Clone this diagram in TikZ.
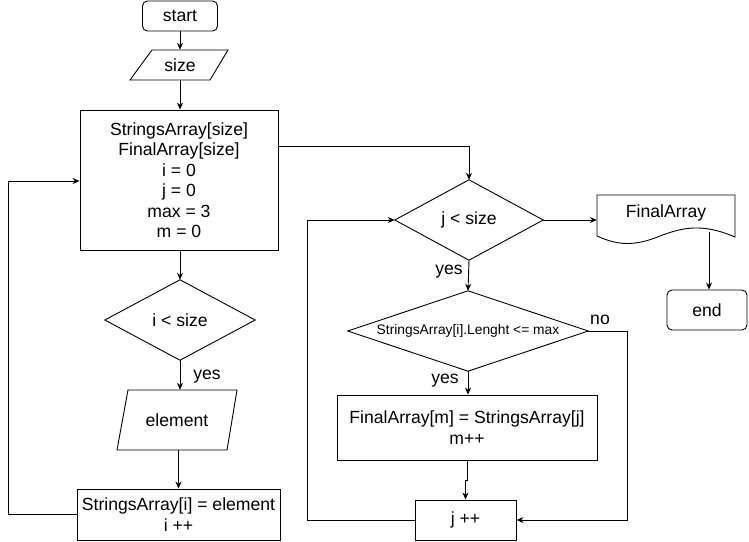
\documentclass[tikz,border=0pt]{standalone}
\usepackage{fontspec}
\setmainfont{Liberation Sans}
\usetikzlibrary{arrows.meta,calc}
\begin{document}
\begin{tikzpicture}[x=1pt,y=-1pt,
  every node/.style={font=\fontsize{17.6}{20.5}\selectfont, inner sep=0pt, align=center},
  line/.style={draw=black, line width=0.9pt},
  arr/.style={line, -{Stealth[length=7pt,width=6pt]}},
  box/.style={draw=black, line width=0.9pt, rectangle},
  rbox/.style={box, rounded corners=5pt},
  ghost/.style={rectangle}
]
\useasboundingbox (0,0) rectangle (749,541);

% start / end
\node[rbox, minimum width=75pt, minimum height=30pt] (start) at (180,16) {start};
\node[rbox, minimum width=80pt, minimum height=40pt] (end) at (707,310) {end};

% size parallelogram
\node[ghost, minimum width=80pt, minimum height=30pt] (size) at (180,65) {size};
\draw[line] (152,50) -- (228,50) -- (210,80) -- (130,80) -- cycle;

% init box
\node[box, minimum width=198pt, minimum height=140pt] (init) at (179,180)
  {StringsArray[size]\\FinalArray[size]\\i = 0\\j = 0\\max = 3\\m = 0};

% i < size diamond
\node[ghost, minimum width=150pt, minimum height=80pt] (di) at (180,320) {i < size};
\draw[line] (di.north) -- (di.east) -- (di.south) -- (di.west) -- cycle;

% element parallelogram
\node[ghost, minimum width=100pt, minimum height=60pt] (el) at (177,420) {element};
\draw[line] (128,390) -- (237,390) -- (227,450) -- (117,450) -- cycle;

% StringsArray[i] = element
\node[box, minimum width=203pt, minimum height=51pt] (b2) at (178.5,514.5)
  {StringsArray[i] = element\\i ++};

% j < size diamond
\node[ghost, minimum width=148pt, minimum height=80pt] (dj) at (469,220) {j < size};
\draw[line] (dj.north) -- (dj.east) -- (dj.south) -- (dj.west) -- cycle;

% FinalArray document
\node[ghost, minimum width=138pt, minimum height=40pt] (fa) at (666,215) {};
\node at (666,213) {FinalArray};
\draw[line] (597,195) -- (735,195) -- (735,237)
  .. controls (700,222) and (680,228) .. (655,238)
  .. controls (630,247) and (615,244) .. (597,236) -- cycle;

% condition diamond
\node[ghost, minimum width=240pt, minimum height=80pt] (dc) at (468,331)
  {\fontsize{13.8}{16}\selectfont StringsArray[i].Lenght <= max};
\draw[line] (dc.north) -- (dc.east) -- (dc.south) -- (dc.west) -- cycle;

% FinalArray[m] box
\node[box, minimum width=260pt, minimum height=65pt] (b3) at (467,427.5)
  {FinalArray[m] = StringsArray[j]\\m++};

% j ++ box
\node[box, minimum width=101pt, minimum height=40pt] (jpp) at (465.5,520) {j ++};

% connectors
\draw[arr] (start.south) -- (size.north);
\draw[arr] (size.south) -- (size.south |- init.north);
\draw[arr] (init.south -| di.north) -- (di.north);
\draw[arr] (di.south) -- (di.south |- el.north);
\draw[arr] (b2.north |- el.south) -- (b2.north);
\draw[arr] (b2.west) -- (8,514.5) |- ($(init.west)+(0,1)$);
\draw[arr] ($(init.east)+(0,-34)$) -| (dj.north);
\draw[arr] (dj.east) -- (dj.east -| fa.west);
\coordinate (faout) at (709,232);
\draw[arr] (faout) -- (faout |- end.north);
\draw[arr] (dj.south) -- (dc.north);
\draw[arr] (dc.south) -- (dc.south |- b3.north);
\draw[arr] (b3.south) -- ++(0,20) -| (jpp.north);
\draw[arr] (dc.east) -- (627,331) |- (jpp.east);
\draw[arr] (jpp.west) -- (307,520) |- (dj.west);

% labels
\node (ly1) at (207,377) {yes};
\node (ly2) at (449,272) {yes};
\node (lno) at (600,320) {no};
\node (ly3) at (445,381) {yes};
\end{tikzpicture}
\end{document}
